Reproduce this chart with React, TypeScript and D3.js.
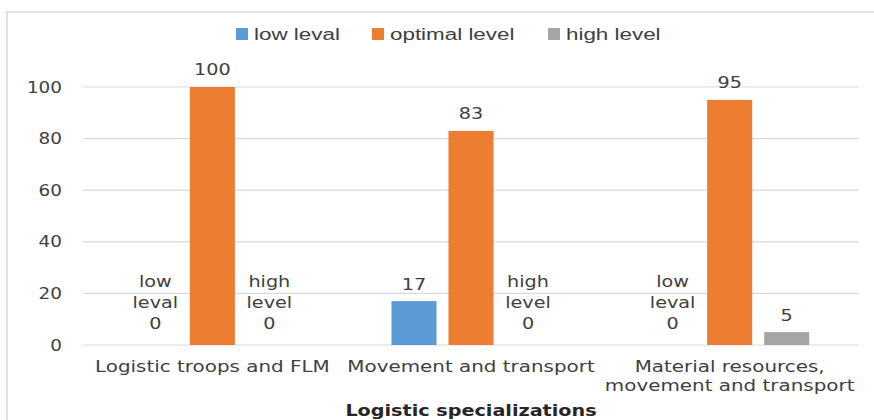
import React, { useEffect, useRef } from "react";
import * as d3 from "d3";

const categories = [["Logistic troops and FLM"], ["Movement and transport"], ["Material resources,", "movement and transport"]];
const seriesNames = ["low leval", "optimal level", "high level"];
const seriesColors = ["#5b9bd5", "#ed7d31", "#a5a5a5"];
const lowValues = [0, 17, 0];
const optimalValues = [100, 83, 95];
const highValues = [0, 0, 5];
const yTicks = [0, 20, 40, 60, 80, 100];
const xTitle = "Logistic specializations";

const FONT = "'DejaVu Sans', Verdana, sans-serif";

// text with a horizontal stretch, the reference glyphs are wider than the fonts we have
function addText(
  parent: d3.Selection<any, unknown, null, undefined>,
  x: number, y: number, txt: string,
  opts: { size?: number; anchor?: string; weight?: string; family?: string; sx?: number; fill?: string } = {}
) {
  const { size = 16, anchor = "middle", weight = "normal", family = FONT, sx = 1.2, fill = "#404040" } = opts;
  parent.append("text")
    .attr("transform", `translate(${x},${y}) scale(${sx},1)`)
    .attr("text-anchor", anchor).attr("dominant-baseline", "central")
    .style("font-family", family).style("font-size", `${size}px`).style("font-weight", weight)
    .attr("fill", fill)
    .text(txt);
}

export default function App() {
  const ref = useRef<SVGSVGElement | null>(null);

  useEffect(() => {
    if (!ref.current) return;
    const width = 874;
    const height = 420;
    const svg = d3.select(ref.current);
    svg.attr("width", width).attr("height", height);
    svg.selectAll("*").remove();

    const series = [lowValues, optimalValues, highValues];

    // chart frame
    svg.append("rect")
      .attr("x", 7).attr("y", 12).attr("width", 900).attr("height", 440)
      .attr("fill", "white").attr("stroke", "#d9d9d9").attr("stroke-width", 1.5);

    const plotLeft = 83;
    const plotRight = 859;
    const plotTop = 87;
    const plotBottom = 345;

    const x0 = d3.scaleBand<number>()
      .domain(d3.range(categories.length))
      .range([plotLeft, plotRight])
      .paddingInner(0.385).paddingOuter(0.1925);
    const x1 = d3.scaleBand<number>()
      .domain(d3.range(seriesNames.length))
      .range([0, x0.bandwidth()])
      .paddingInner(0.21);
    const y = d3.scaleLinear().domain([0, 100]).range([plotBottom, plotTop]);

    // gridlines
    svg.append("g").selectAll("line").data(yTicks).enter().append("line")
      .attr("x1", plotLeft).attr("x2", plotRight)
      .attr("y1", (d) => y(d)).attr("y2", (d) => y(d))
      .attr("stroke", "#d9d9d9").attr("stroke-width", 1.2);

    // y labels
    const yg = svg.append("g");
    yTicks.forEach((t) => addText(yg, 62, y(t), String(t), { anchor: "end", sx: 1.15 }));

    // bars + data labels
    categories.forEach((_, ci) => {
      const g = svg.append("g").attr("transform", `translate(${x0(ci)},0)`);
      series.forEach((vals, si) => {
        const v = vals[ci];
        const bx = x1(si)!;
        const bw = x1.bandwidth();
        if (v > 0) {
          g.append("rect")
            .attr("x", bx).attr("y", y(v))
            .attr("width", bw).attr("height", plotBottom - y(v))
            .attr("fill", seriesColors[si]);
        }
        const cx = bx + bw / 2;
        if (v === 0) {
          const lines = [...seriesNames[si].split(" "), String(v)];
          lines.forEach((line, li) => {
            addText(g, cx, y(v) - 21 - (lines.length - 1 - li) * 21, line, { sx: 1.2 });
          });
        } else {
          addText(g, cx, y(v) - 17, String(v), { sx: 1.2 });
        }
      });
    });

    // category labels
    const cg = svg.append("g");
    categories.forEach((lines, ci) => {
      lines.forEach((line, li) => {
        addText(cg, x0(ci)! + x0.bandwidth() / 2, 366 + li * 19, line, { sx: 1.245 });
      });
    });

    // x title
    addText(svg, 471, 411, xTitle, { weight: "bold", sx: 1.2, fill: "#262626" });

    // legend
    const legendX = [236, 372, 548];
    const legend = svg.append("g");
    seriesNames.forEach((name, i) => {
      legend.append("rect")
        .attr("x", legendX[i]).attr("y", 28).attr("width", 12).attr("height", 12)
        .attr("fill", seriesColors[i]);
      addText(legend, legendX[i] + 18, 34, name, {
        anchor: "start", family: "'Liberation Sans', Arial, sans-serif", sx: 1.4,
      });
    });
  }, []);

  return <svg ref={ref} style={{ position: "absolute", left: 0, top: 0 }} />;
}
